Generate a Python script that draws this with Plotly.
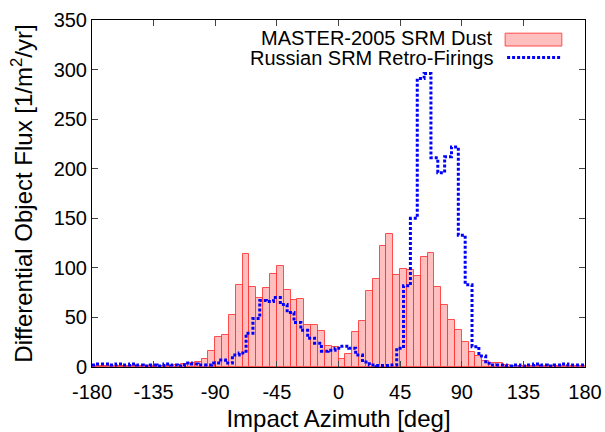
import plotly.graph_objects as go

# Red histogram (MASTER-2005 SRM Dust), 5-degree bins from -180 to 180
bin_left_edges = list(range(-180, 180, 5))
dust_flux = [
    1, 1, 1, 1, 1, 1, 1, 1, 1, 1, 1,
    1.5, 2, 3, 4.4, 5, 8, 16, 30, 32, 52.5,
    83, 114, 81, 70, 80, 94, 102, 78, 68, 69,
    42, 42, 36, 21, 20.5, 8, 13, 35, 46, 77,
    88.5, 122, 134, 93, 99, 98, 92, 111, 115, 80.5,
    63, 47.5, 37.5, 25.6, 15, 11, 6, 4.5, 4, 2,
    1, 1, 1, 1, 1, 1, 1, 1, 1, 1, 1,
]

# Blue step line (Russian SRM Retro-Firings), values at multiples of 5 deg
retro_azimuth = list(range(-180, 185, 5))
retro_flux = [
    2, 3, 3, 2, 3, 2, 3, 2, 1, 2, 1, 3, 2,
    1, 4, 3, 2, 2, 4, 7, 4, 12, 14,
    34, 49, 67, 66, 70, 63, 55, 45, 37, 29,
    24, 16, 17, 19, 21, 19, 12, 5, 2, 1.5,
    1.5, 2, 19, 82, 150, 291, 296, 211, 196, 212,
    222, 133, 83, 20.5, 11, 3.7, 2, 2, 1, 2,
    1, 2, 3, 2, 1, 2, 3, 2, 2, 2,
]

x_ticks = [-180, -135, -90, -45, 0, 45, 90, 135, 180]
y_ticks = [0, 50, 100, 150, 200, 250, 300, 350]

bin_centers = [e + 2.5 for e in bin_left_edges]

fig = go.Figure()
fig.add_trace(go.Bar(
    x=bin_centers, y=dust_flux, width=5,
    marker=dict(color="rgba(255,0,0,0.25)", line=dict(color="rgba(255,60,60,0.9)", width=1)),
    name="MASTER-2005 SRM Dust", showlegend=False,
))
fig.add_trace(go.Scatter(
    x=retro_azimuth, y=retro_flux, mode="lines",
    line=dict(color="#0000FF", width=3, dash="3px,2px", shape="hvh"),
    name="Russian SRM Retro-Firings", showlegend=False,
))

font = "Liberation Sans, Arial, sans-serif"

fig.update_layout(
    width=605, height=432,
    margin=dict(l=92, r=20, t=20, b=65, autoexpand=False),
    paper_bgcolor="white", plot_bgcolor="white",
    bargap=0,
    font=dict(family=font, size=20, color="black"),
    xaxis=dict(
        range=[-180, 180], tickvals=x_ticks, ticktext=[str(v) for v in x_ticks],
        ticks="inside", ticklen=6, mirror="ticks", showline=True, linecolor="black",
        linewidth=1, showgrid=False, zeroline=False, automargin=False,
        ticklabelstandoff=7,
        title=dict(text="Impact Azimuth [deg]", standoff=17),
        tickfont=dict(size=20),
    ),
    yaxis=dict(
        range=[0, 350], tickvals=y_ticks,
        ticks="inside", ticklen=6, mirror="ticks", showline=True, linecolor="black",
        linewidth=1, showgrid=False, zeroline=False, automargin=False,
        title=dict(text="Differential Object Flux [1/m<sup>2</sup>/yr]", standoff=14),
        tickfont=dict(size=20),
    ),
)

# Legend drawn gnuplot-style: right-aligned text followed by sample
fig.add_annotation(xref="paper", yref="paper", x=0.818, y=0.948, xanchor="right", yanchor="middle",
                   text="MASTER-2005 SRM Dust", showarrow=False, font=dict(size=20))
fig.add_annotation(xref="paper", yref="paper", x=0.818, y=0.890, xanchor="right", yanchor="middle",
                   text="Russian SRM Retro-Firings", showarrow=False, font=dict(size=20))
fig.add_shape(type="rect", xref="paper", yref="paper", x0=0.838, x1=0.953, y0=0.925, y1=0.962,
              fillcolor="rgba(255,0,0,0.25)", line=dict(color="rgba(255,60,60,0.9)", width=1))
fig.add_shape(type="line", xref="paper", yref="paper", x0=0.842, x1=0.953, y0=0.892, y1=0.892,
              line=dict(color="#0000FF", width=3, dash="3px,2px"))

fig.write_html("out.html")
